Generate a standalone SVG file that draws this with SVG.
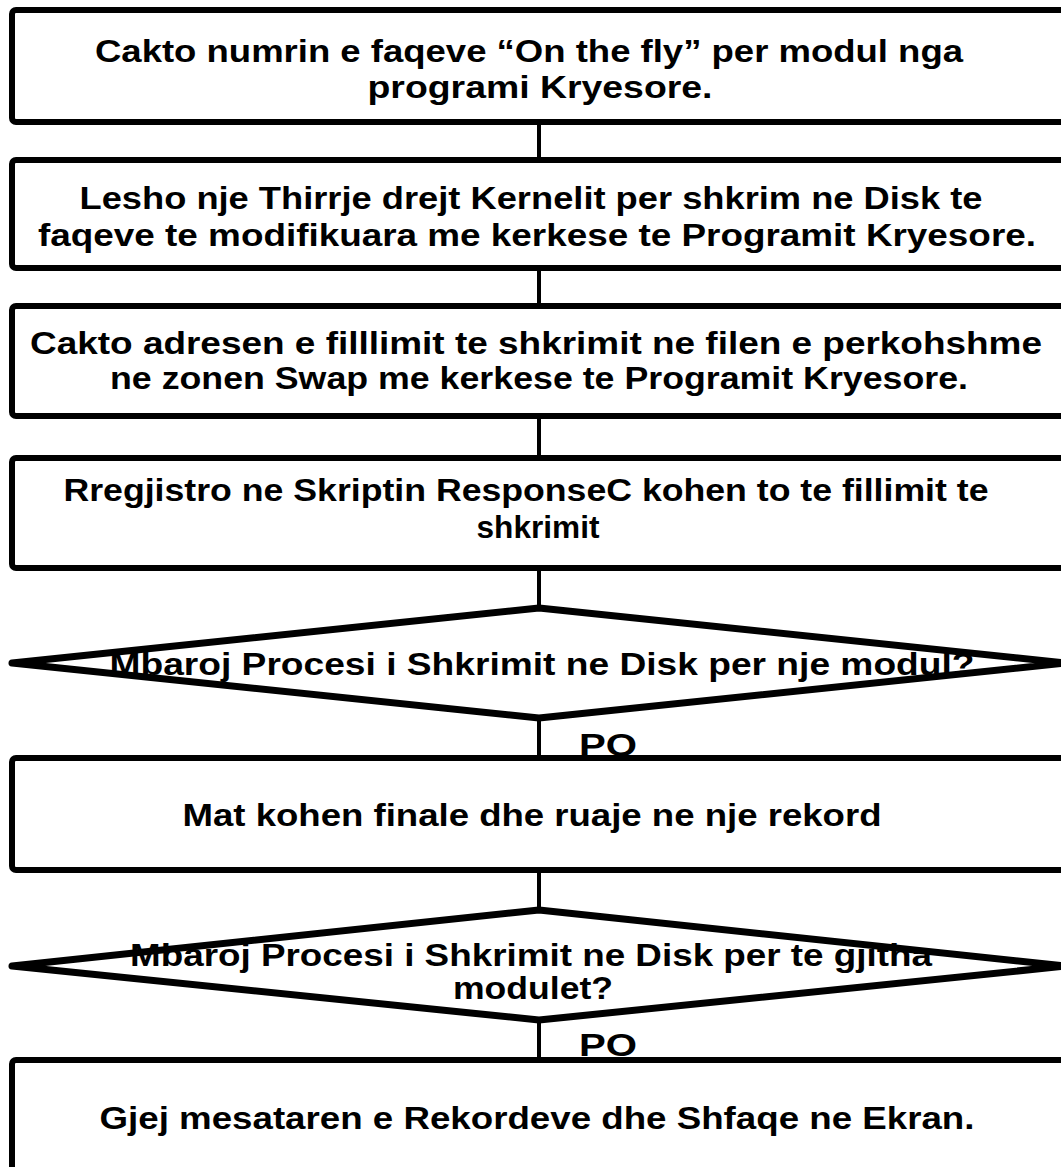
<svg xmlns="http://www.w3.org/2000/svg" width="1061" height="1167" viewBox="0 0 1061 1167">
  <style>
    .box { fill: #ffffff; stroke: #000000; stroke-width: 6; }
    .dec { fill: #ffffff; stroke: #000000; stroke-width: 7; stroke-linejoin: round; }
    .link { stroke: #000000; stroke-width: 4; fill: none; }
    text { font-family: "Liberation Sans Narrow", "Liberation Sans", Arial, sans-serif; font-weight: bold; font-size: 31px; fill: #000000; text-anchor: middle; }
  </style>
  <rect width="1061" height="1167" fill="#ffffff"/>

  <g id="connectors">
    <line class="link" x1="539" y1="122" x2="539" y2="160"/>
    <line class="link" x1="539" y1="268" x2="539" y2="306"/>
    <line class="link" x1="539" y1="416" x2="539" y2="458"/>
    <line class="link" x1="539" y1="568" x2="539" y2="608"/>
    <line class="link" x1="539" y1="718" x2="539" y2="758"/>
    <line class="link" x1="539" y1="870" x2="539" y2="910"/>
    <line class="link" x1="539" y1="1020" x2="539" y2="1060"/>
    <text x="608" y="756" textLength="58" lengthAdjust="spacingAndGlyphs">PO</text>
    <text x="608" y="1056" textLength="58" lengthAdjust="spacingAndGlyphs">PO</text>
  </g>

  <g id="step1">
    <rect class="box" x="12" y="10" width="1080" height="112" rx="4"/>
    <text x="529" y="62" textLength="868" lengthAdjust="spacingAndGlyphs">Cakto numrin e faqeve “On the fly” per modul nga</text>
    <text x="540" y="98" textLength="345" lengthAdjust="spacingAndGlyphs">programi Kryesore.</text>
  </g>

  <g id="step2">
    <rect class="box" x="12" y="160" width="1080" height="108" rx="4"/>
    <text x="531" y="209" textLength="903" lengthAdjust="spacingAndGlyphs">Lesho nje Thirrje drejt Kernelit per shkrim ne Disk te</text>
    <text x="537" y="246" textLength="998" lengthAdjust="spacingAndGlyphs">faqeve te modifikuara me kerkese te Programit Kryesore.</text>
  </g>

  <g id="step3">
    <rect class="box" x="12" y="306" width="1080" height="110" rx="4"/>
    <text x="536" y="354" textLength="1012" lengthAdjust="spacingAndGlyphs">Cakto adresen e filllimit te shkrimit ne filen e perkohshme</text>
    <text x="539" y="389" textLength="858" lengthAdjust="spacingAndGlyphs">ne zonen Swap me kerkese te Programit Kryesore.</text>
  </g>

  <g id="step4">
    <rect class="box" x="12" y="458" width="1080" height="110" rx="4"/>
    <text x="526" y="501" textLength="925" lengthAdjust="spacingAndGlyphs">Rregjistro ne Skriptin ResponseC kohen to te fillimit te</text>
    <text x="538" y="538" textLength="123" lengthAdjust="spacingAndGlyphs">shkrimit</text>
  </g>

  <g id="decision1">
    <polygon class="dec" points="539,608 1066,663 539,718 12,663"/>
    <text x="542" y="675" textLength="865" lengthAdjust="spacingAndGlyphs">Mbaroj Procesi i Shkrimit ne Disk per nje modul?</text>
  </g>

  <g id="step5">
    <rect class="box" x="12" y="758" width="1080" height="112" rx="4"/>
    <text x="532" y="826" textLength="699" lengthAdjust="spacingAndGlyphs">Mat kohen finale dhe ruaje ne nje rekord</text>
  </g>

  <g id="decision2">
    <polygon class="dec" points="539,910 1066,966 539,1020 12,966"/>
    <text x="531" y="966" textLength="802" lengthAdjust="spacingAndGlyphs">Mbaroj Procesi i Shkrimit ne Disk per te gjitha</text>
    <text x="533" y="999" textLength="160" lengthAdjust="spacingAndGlyphs">modulet?</text>
  </g>

  <g id="step6">
    <rect class="box" x="12" y="1060" width="1080" height="140" rx="4"/>
    <text x="537" y="1129" textLength="875" lengthAdjust="spacingAndGlyphs">Gjej mesataren e Rekordeve dhe Shfaqe ne Ekran.</text>
  </g>
</svg>
